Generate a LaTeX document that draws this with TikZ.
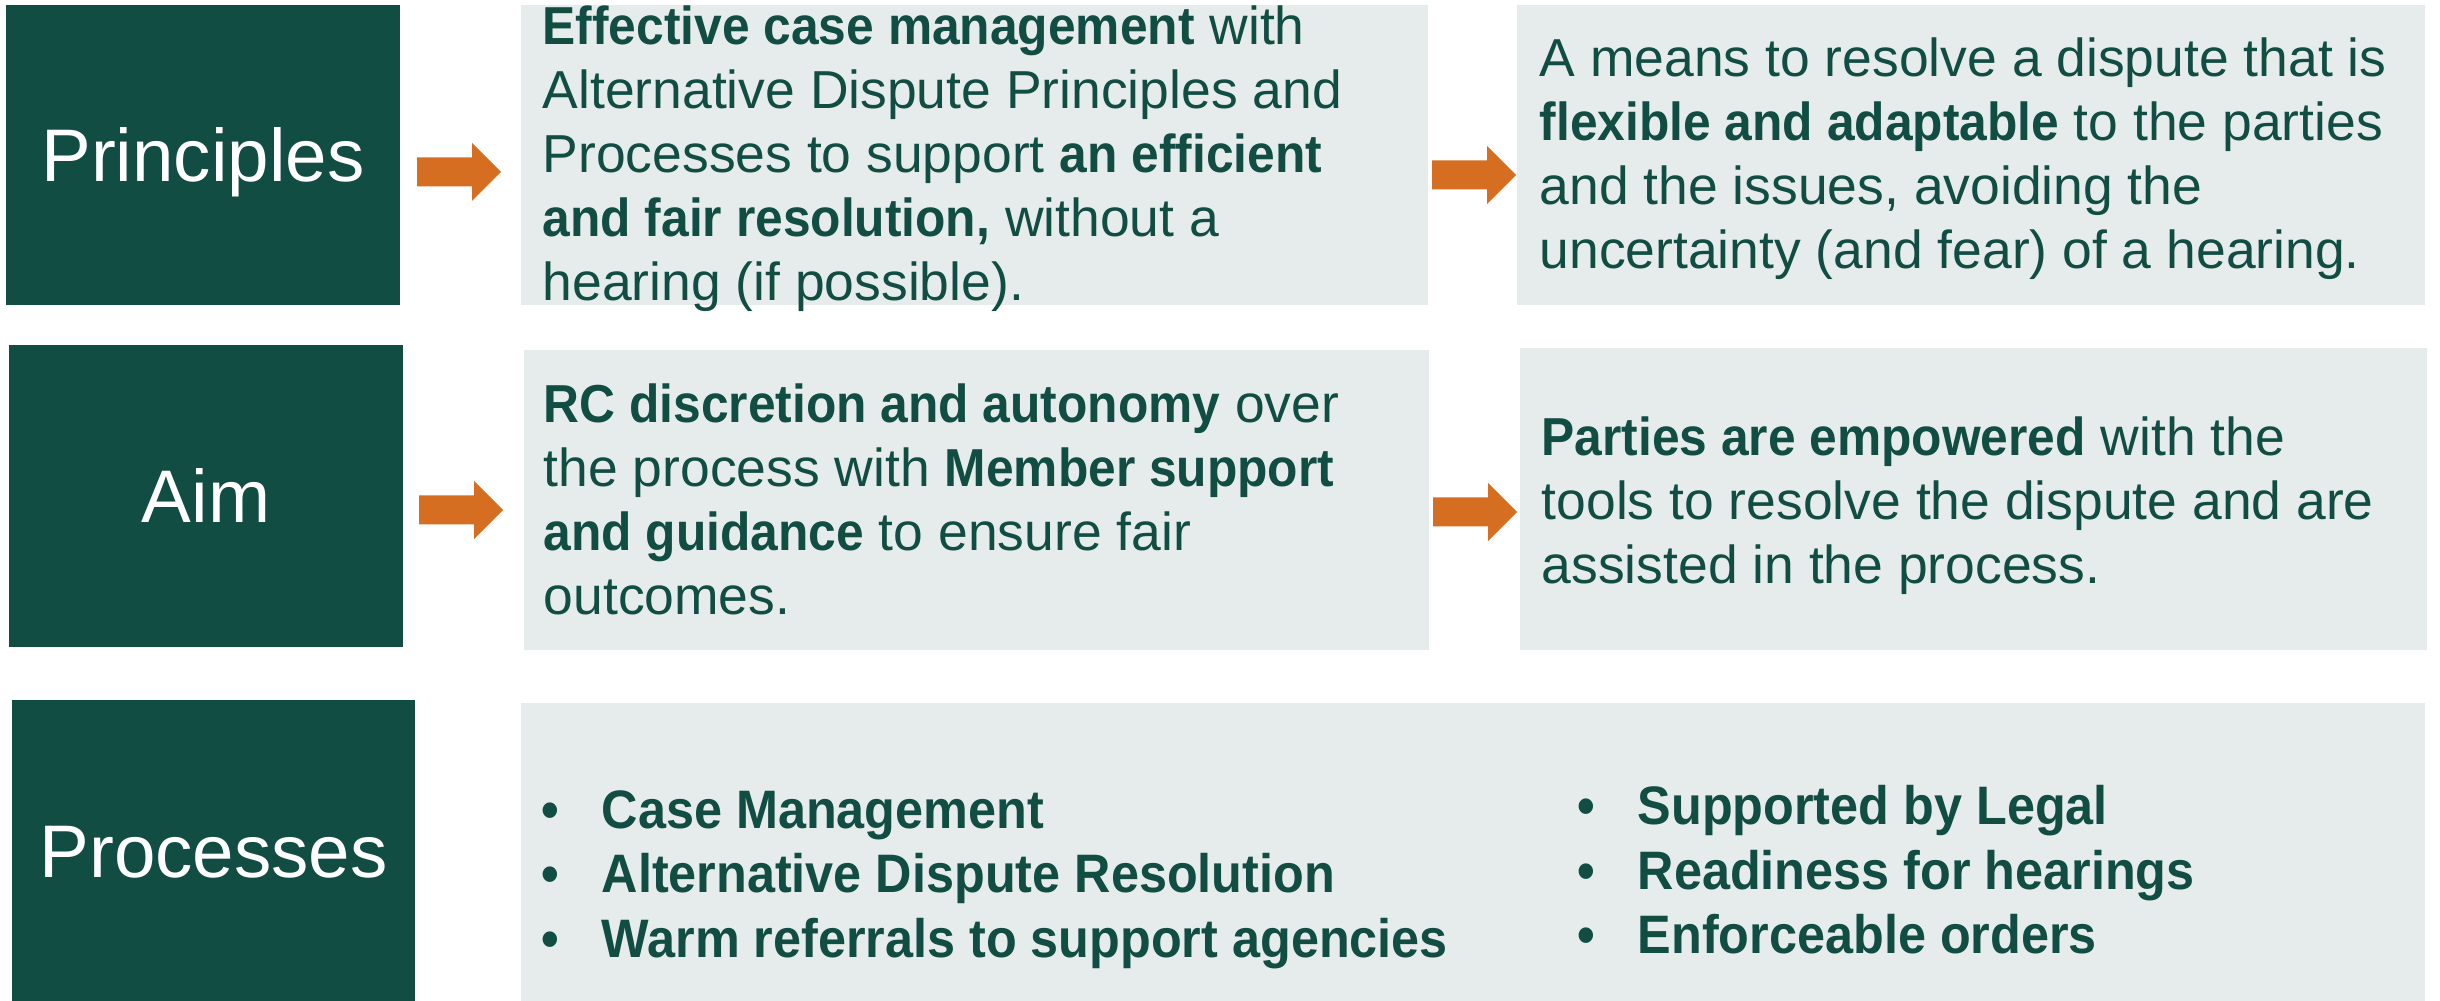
\documentclass[tikz,border=0pt]{standalone}
\usepackage{fontspec}
\setmainfont{Liberation Sans}[BoldFeatures={FakeStretch=0.93}]
\usetikzlibrary{fit,calc}
\definecolor{dkgreen}{RGB}{17,77,67}
\definecolor{paleg}{RGB}{230,236,235}
\definecolor{arroworange}{RGB}{214,110,34}
\begin{document}
\begin{tikzpicture}[x=0.01cm,y=-0.01cm,
  headbox/.style={fill=dkgreen,inner sep=0,draw=none},
  bodybox/.style={fill=paleg,inner sep=0,draw=none},
  headtext/.style={text=white,font=\fontsize{21.2pt}{25pt}\selectfont,anchor=base,inner sep=0},
  bodytext/.style={text=dkgreen,font=\fontsize{15.2pt}{18.2pt}\selectfont,anchor=base west,align=left,inner sep=0},
  listtext/.style={text=dkgreen,font=\bfseries\fontsize{15.4pt}{18.2pt}\selectfont,anchor=base west,align=left,inner sep=0},
  flowarrow/.pic={\fill[arroworange] (-42,-14.5) -- (13,-14.5) -- (13,-29) -- (42,0) -- (13,29) -- (13,14.5) -- (-42,14.5) -- cycle;}
]
\useasboundingbox[fill=white] (0,0) rectangle (2440,1001);
\newcommand{\bul}{\makebox[0.6cm][l]{\textbullet}}

% row headings
\node[headbox,fit={(6,5)(400,305)}] (p) {};
\node[headbox,fit={(9,345)(403,647)}] (aim) {};
\node[headbox,fit={(12,700)(415,1001)}] (proc) {};
\node[headtext] (pt) at ($(p.center)+(0,27)$) {Principles};
\node[headtext] (at) at ($(aim.center)+(0,27)$) {Aim};
\node[headtext] (rt) at ($(proc.center)+(0,27)$) {Processes};

% content panels
\node[bodybox,fit={(521,5)(1428,305)}] (d1) {};
\node[bodybox,fit={(1517,5)(2425,305)}] (d2) {};
\node[bodybox,fit={(524,350)(1429,650)}] (d3) {};
\node[bodybox,fit={(1520,348)(2427,650)}] (d4) {};
\node[bodybox,fit={(521,703)(2425,1001)}] (d5) {};

% flow arrows between heading and panels
\coordinate (a1) at (459,172);
\coordinate (a2) at (1474,175);
\coordinate (a3) at (461,510);
\coordinate (a4) at (1475,512);
\foreach \c in {a1,a2,a3,a4} \pic at (\c) {flowarrow};

% panel texts (anchored at the baseline of the last line)
\node[bodytext] (t1) at (542,301) {\textbf{Effective case management} with\\Alternative Dispute Principles and\\Processes to support \textbf{an efficient}\\\textbf{and fair resolution,} without a\\hearing (if possible).};
\node[bodytext] (t2) at (1539,269) {A means to resolve a dispute that is\\\textbf{flexible and adaptable} to the parties\\and the issues, avoiding the\\uncertainty (and fear) of a hearing.};
\node[bodytext] (t3) at (543,615) {\textbf{RC discretion and autonomy} over\\the process with \textbf{Member support}\\\textbf{and guidance} to ensure fair\\outcomes.};
\node[bodytext] (t4) at (1541,584) {\textbf{Parties are empowered} with the\\tools to resolve the dispute and are\\assisted in the process.};

% process lists
\node[listtext] (l1) at (541,957) {\bul Case Management\\\bul Alternative Dispute Resolution\\\bul Warm referrals to support agencies};
\node[listtext] (l2) at (1577,953) {\bul Supported by Legal\\\bul Readiness for hearings\\\bul Enforceable orders};
\end{tikzpicture}
\end{document}
